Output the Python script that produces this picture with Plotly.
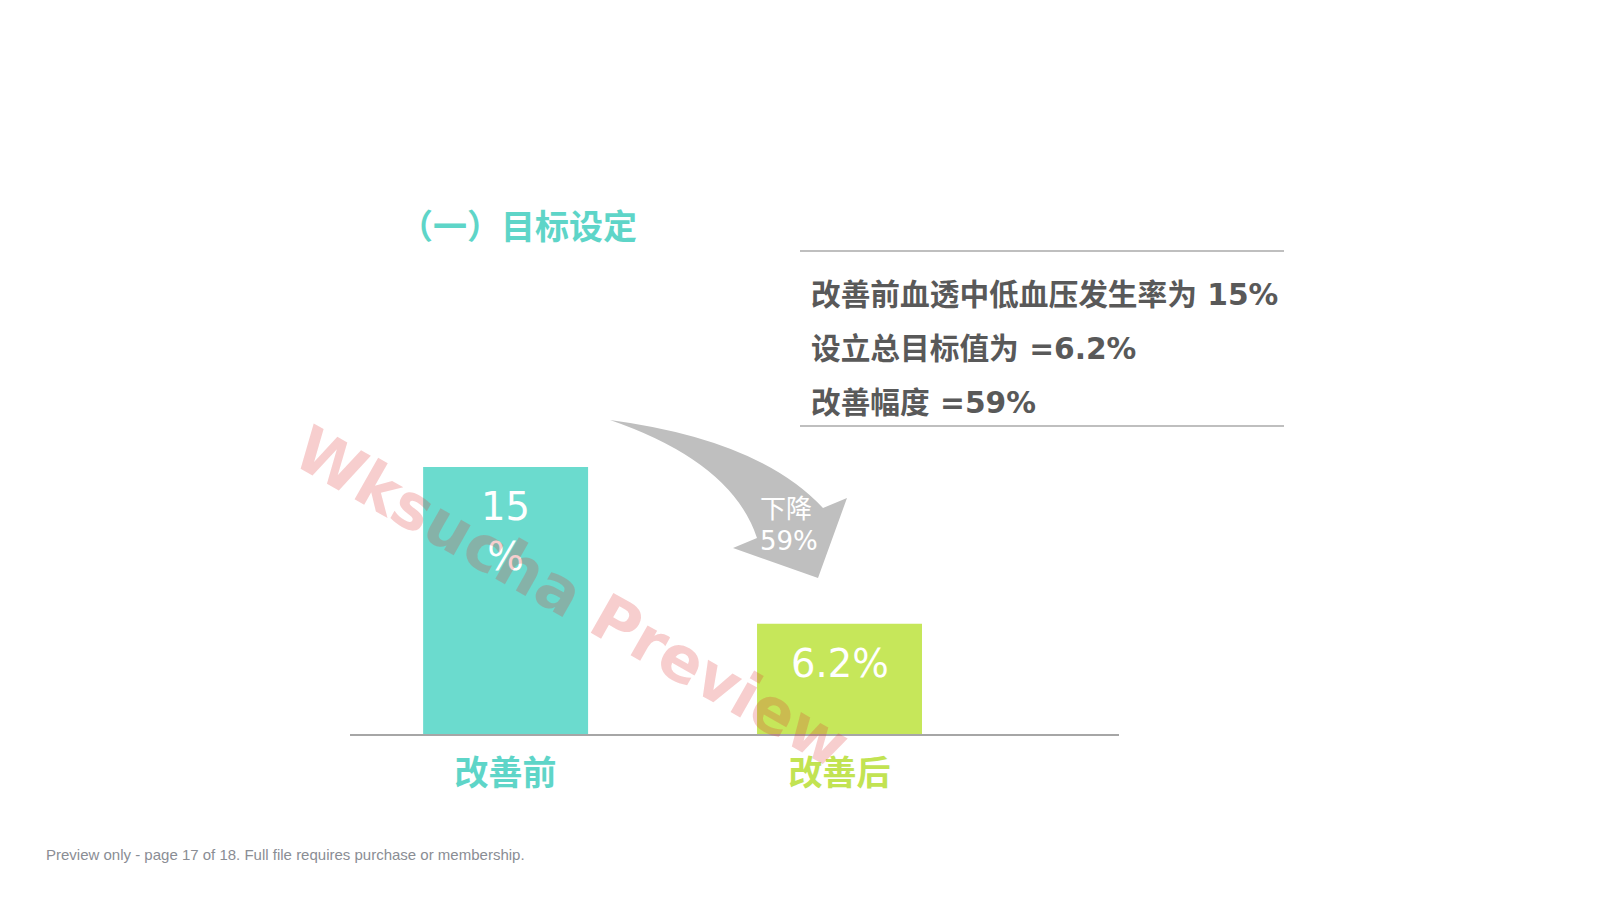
import plotly.graph_objects as go

# ---- data ----
categories = ["改善前", "改善后"]
values = [15, 6.2]
value_labels = ["15<br>%", "6.2%"]
bar_colors = ["#6BDBCE", "#C6E75A"]
label_colors = ["#5ED5C8", "#C2E352"]
title_text = "（一）目标设定"
info_lines = ["改善前血透中低血压发生率为 15%", "设立总目标值为 =6.2%", "改善幅度 =59%"]
arrow_text = ["下降", "59%"]
footer_text = "Preview only - page 17 of 18. Full file requires purchase or membership."
watermark_text = "Wksucha Preview"

W, H = 1601, 900
# main plot area in pixels
PX_L, PX_R, PX_T, PX_B = 350, 1119, 378, 734

fig = go.Figure()
fig.add_trace(go.Bar(
    x=categories, y=values, marker=dict(color=bar_colors, line=dict(width=0)),
    width=0.494, hoverinfo="skip", xaxis="x", yaxis="y",
))
# invisible trace to create pixel overlay axes
fig.add_trace(go.Scatter(x=[0, W], y=[0, H], mode="markers", marker=dict(opacity=0),
                         hoverinfo="skip", xaxis="x2", yaxis="y2", showlegend=False))

ticktext = [f"<span style='color:{c}'><b>{t}</b></span>" for t, c in zip(categories, label_colors)]

fig.update_layout(
    width=W, height=H,
    margin=dict(l=0, r=0, t=0, b=0),
    paper_bgcolor="white", plot_bgcolor="rgba(0,0,0,0)",
    showlegend=False,
    xaxis=dict(domain=[PX_L / W, PX_R / W], type="category", range=[-0.466, 1.837],
               showline=True, linecolor="#A6A6A6", linewidth=1.5, showgrid=False,
               zeroline=False, ticks="", tickvals=categories, ticktext=ticktext,
               tickfont=dict(family="Noto Sans CJK SC", size=34), ticklabelstandoff=8,
               anchor="y"),
    yaxis=dict(domain=[(H - PX_B) / H, (H - PX_T) / H], range=[0, 20], visible=False,
               anchor="x"),
    xaxis2=dict(domain=[0, 1], range=[0, W], visible=False, anchor="y2", fixedrange=True),
    yaxis2=dict(domain=[0, 1], range=[H, 0], visible=False, anchor="x2", fixedrange=True),
)

ann = []
# bar value labels
for c, v, t in zip(categories, values, value_labels):
    ann.append(dict(x=c, y=v, xref="x", yref="y", text=t, showarrow=False,
                    yanchor="top", yshift=-15,
                    font=dict(family="DejaVu Sans", size=38.5, color="white")))

# title
ann.append(dict(x=639, y=224, xref="x2", yref="y2", text=f"<b>{title_text}</b>", showarrow=False,
                xanchor="right", yanchor="middle",
                font=dict(family="Noto Sans CJK SC", size=34, color="#5ED5C8")))

# info lines
for i, line in enumerate(info_lines):
    ann.append(dict(x=809, y=294 + 54 * i, xref="x2", yref="y2", text=f"<b>{line}</b>",
                    showarrow=False, xanchor="left", yanchor="middle",
                    font=dict(family="DejaVu Sans, Noto Sans CJK SC", size=29.7, color="#595959")))

# arrow text
for t, ax, ay in zip(arrow_text, [786, 789], [509, 541]):
    ann.append(dict(x=ax, y=ay, xref="x2", yref="y2", text=t, showarrow=False,
                    xanchor="center", yanchor="middle",
                    font=dict(family="DejaVu Sans, Noto Sans CJK SC", size=26, color="white")))

# footer
ann.append(dict(x=44, y=854, xref="x2", yref="y2", text=footer_text, showarrow=False,
                xanchor="left", yanchor="middle",
                font=dict(family="Liberation Sans, Arial", size=15, color="#8A8D94")))

# watermark
ann.append(dict(x=572, y=597, xref="x2", yref="y2", text=f"<b>{watermark_text}</b>", showarrow=False,
                textangle=29.5, xanchor="center", yanchor="middle",
                font=dict(family="DejaVu Sans", size=63, color="rgba(220,50,50,0.24)")))

fig.update_layout(annotations=ann)

# shapes: info box rules and curved arrow
shapes = [
    dict(type="line", xref="x2", yref="y2", x0=800, x1=1284, y0=251, y1=251,
         line=dict(color="#808080", width=1.2)),
    dict(type="line", xref="x2", yref="y2", x0=800, x1=1284, y0=426, y1=426,
         line=dict(color="#808080", width=1.2)),
    dict(type="path", xref="x2", yref="y2",
         path="M 610,420 Q 760,440 823,508 L 847,498 L 818,578 L 733,548 L 757,538 Q 732,462 610,420 Z",
         fillcolor="#BFBFBF", line=dict(width=0), layer="below"),
]
fig.update_layout(shapes=shapes)

fig.write_html("out.html")
